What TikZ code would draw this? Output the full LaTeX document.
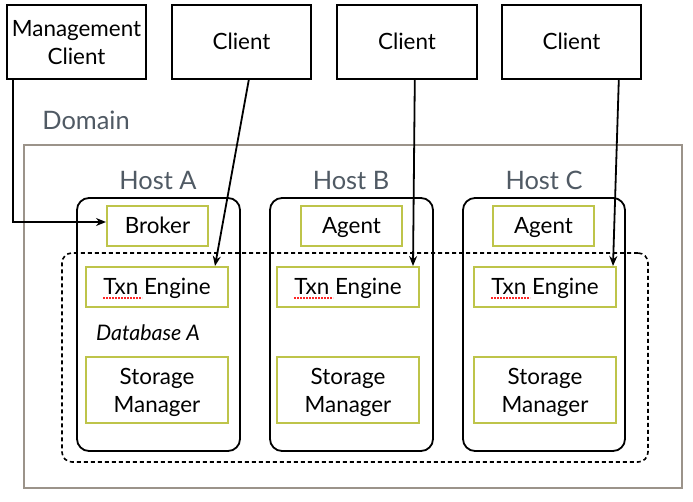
\documentclass[tikz,border=0pt]{standalone}
\usepackage{fontspec}
\setmainfont{Lato}
\usetikzlibrary{arrows.meta,calc}
\definecolor{grn}{RGB}{190,196,74}
\definecolor{dom}{RGB}{155,147,138}
\definecolor{lbl}{RGB}{80,90,100}
\begin{document}
\begin{tikzpicture}[x=1bp,y=-1bp,
  txt/.style={font=\fontsize{22.5}{28.5}\selectfont,text height=15bp,text depth=0bp},
  twoline/.style={text height=45bp,text depth=0bp},
  blackbox/.style={txt,draw=black,line width=1.6bp,inner sep=0pt,align=center},
  greenbox/.style={txt,draw=grn,line width=2bp,inner sep=0pt,align=center},
  hostbox/.style={draw=black,line width=1.8bp,rounded corners=12bp,inner sep=0pt},
  domainbox/.style={draw=dom,line width=2bp,inner sep=0pt},
  dbbox/.style={draw=black,line width=1.6bp,dash pattern=on 4bp off 3bp,rounded corners=10bp,inner sep=0pt},
  greylabel/.style={font=\fontsize{25.5}{30}\selectfont,text=lbl,anchor=base,inner sep=0pt},
  conn/.style={line width=1.8bp,-{Stealth[length=10bp,width=8bp]}},
  squig/.style={draw=red!85!white,line width=1.2bp,dash pattern=on 1.5bp off 1.5bp}
]
\useasboundingbox (0,0) rectangle (693,502);
\fill[white] (0,0) rectangle (693,502);

% Domain
\node[domainbox,minimum width=658bp,minimum height=343bp] (domain) at (353,316.5) {};
\node[greylabel] (domlbl) at (86,130) {Domain};

% Hosts
\node[hostbox,minimum width=163bp,minimum height=253bp] (hostA) at (158.5,324.5) {};
\node[hostbox,minimum width=163bp,minimum height=253bp] (hostB) at (351.5,324.5) {};
\node[hostbox,minimum width=162bp,minimum height=253bp] (hostC) at (544,324.5) {};
\node[greylabel] (hlA) at (158,190) {Host A};
\node[greylabel] (hlB) at (351,190) {Host B};
\node[greylabel] (hlC) at (544,190) {Host C};

% Database (dashed)
\node[dbbox,minimum width=586bp,minimum height=209bp] (db) at (355,357.5) {};
\node[font=\fontsize{21.5}{26}\selectfont\itshape,anchor=base,inner sep=0pt] (dblbl) at (148,340) {Database A};

% Broker / Agents
\node[greenbox,minimum width=101bp,minimum height=40bp] (broker) at (157.5,226) {Broker};
\node[greenbox,minimum width=101bp,minimum height=40bp] (agentB) at (351.5,226) {Agent};
\node[greenbox,minimum width=101bp,minimum height=40bp] (agentC) at (543.5,226) {Agent};

% Txn Engines
\node[greenbox,minimum width=142bp,minimum height=40bp] (txnA) at (157,287) {Txn Engine};
\node[greenbox,minimum width=142bp,minimum height=40bp] (txnB) at (348,287) {Txn Engine};
\node[greenbox,minimum width=142bp,minimum height=40bp] (txnC) at (545,287) {Txn Engine};

% Storage Managers
\node[greenbox,twoline,minimum width=142bp,minimum height=66bp] (smA) at (157,390) {Storage\\Manager};
\node[greenbox,twoline,minimum width=142bp,minimum height=66bp] (smB) at (348,390) {Storage\\Manager};
\node[greenbox,twoline,minimum width=142bp,minimum height=66bp] (smC) at (545,390) {Storage\\Manager};

% spell-check squiggles under "Txn"
\foreach \n in {txnA,txnB,txnC}{
  \draw[squig] ($(\n.center)+(-54,11)$) -- ($(\n.center)+(-15,11)$);
}

% Clients
\node[blackbox,twoline,minimum width=139bp,minimum height=74bp] (mgmt) at (76.5,42) {Management\\Client};
\node[blackbox,minimum width=139bp,minimum height=74bp] (c1) at (241.5,42) {Client};
\node[blackbox,minimum width=140bp,minimum height=74bp] (c2) at (407,42) {Client};
\node[blackbox,minimum width=139bp,minimum height=74bp] (c3) at (571.5,42) {Client};

% Connectors
\draw[conn] ($(mgmt.south west)+(7,0)$) |- ($(broker.west)+(0,-4)$);
\draw[conn] ($(c1.south east)+(-63,0)$) -- ($(txnA.north east)+(-14,0)$);
\draw[conn] ($(c2.south east)+(-63,0)$) -- ($(txnB.north east)+(-7,0)$);
\draw[conn] ($(c3.south east)+(-23,0)$) -- ($(txnC.north east)+(-4,0)$);
\end{tikzpicture}
\end{document}
